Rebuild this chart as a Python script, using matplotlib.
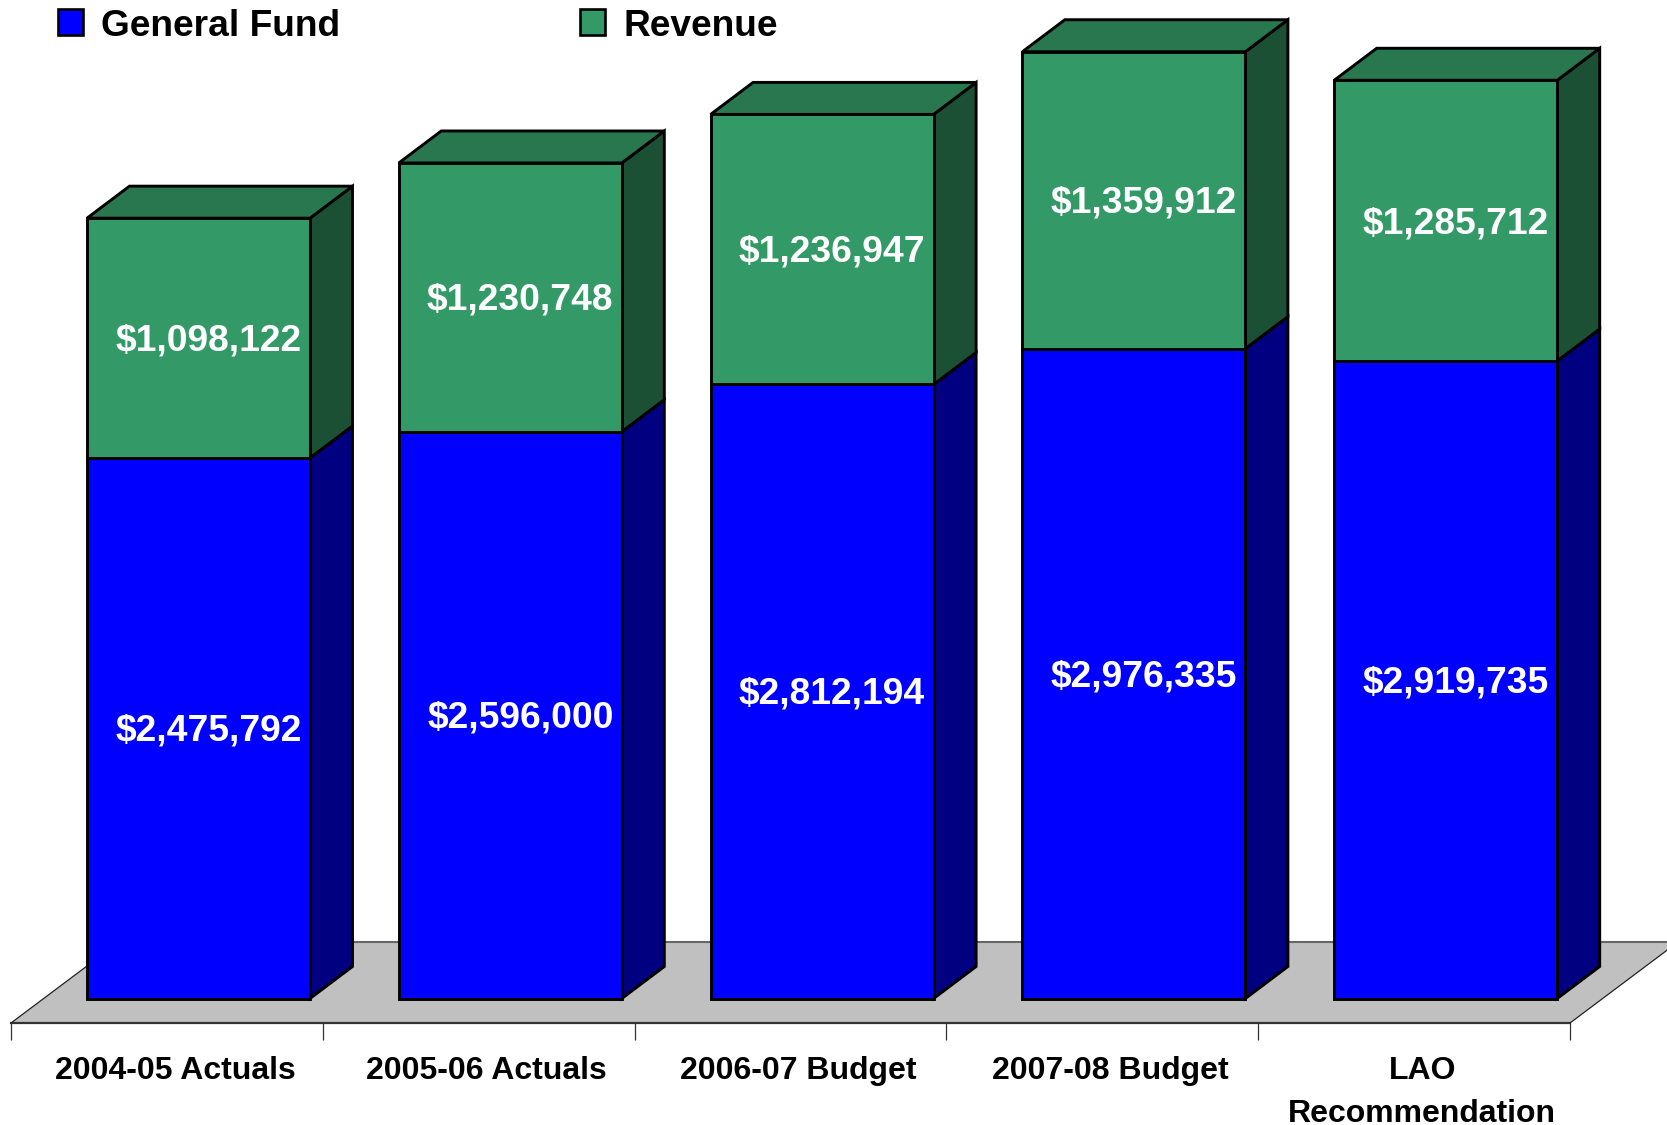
import numpy as np
import matplotlib
matplotlib.use("Agg")
import matplotlib.pyplot as plt
from matplotlib.patches import Rectangle

plt.rcParams['font.family'] = ['Liberation Sans', 'DejaVu Sans']

categories = ["2004-05 Actuals", "2005-06 Actuals", "2006-07 Budget", "2007-08 Budget", "LAO\nRecommendation"]
general_fund = [2475792, 2596000, 2812194, 2976335, 2919735]
revenue = [1098122, 1230748, 1236947, 1359912, 1285712]

BLUE, BLUE_SIDE = "#0000FF", "#000080"
GREEN, GREEN_TOP, GREEN_SIDE = "#339966", "#29774F", "#1C5035"
FLOOR = "#C0C0C0"

PX_X = 311.8            # pixels per category
PX_Y = 4580.0           # dollars per pixel
W, H = 1667, 1125
X0, Y0 = 198.5, 998.5   # pixel position of category 0 and of value 0

fig = plt.figure(figsize=(W / 100, H / 100), dpi=100, facecolor="white")
ax = fig.add_axes([0, 0, 1, 1])
ax.set_xlim(-X0 / PX_X, (W - X0) / PX_X)
ax.set_ylim(-(H - Y0) * PX_Y, Y0 * PX_Y)
ax.axis("off")

x = np.arange(len(categories), dtype=float)
gf = np.array(general_fund, float)
rev = np.array(revenue, float)
width = 223 / PX_X
dx, dy = 42.5 / PX_X, 32 * PX_Y

# floor
tick_x = np.arange(len(categories) + 1) - (X0 - 11) / PX_X
fy0, fy1 = (Y0 - 1023) * PX_Y, (Y0 - 942) * PX_Y
fdx = 108 / PX_X
ax.fill([tick_x[0], tick_x[-1], tick_x[-1] + fdx, tick_x[0] + fdx],
        [fy0, fy0, fy1, fy1], color=FLOOR, lw=0, zorder=1)
ax.plot([tick_x[0] + fdx, tick_x[-1] + fdx], [fy1, fy1], color="#666666", lw=1.5, zorder=1.1)
ax.plot([tick_x[0], tick_x[-1]], [fy0, fy0], color="#333333", lw=1.6, zorder=1.1)
ax.plot([tick_x[0], tick_x[0] + fdx], [fy0, fy1], color="#222222", lw=0.9, zorder=1.1)
ax.plot([tick_x[-1], tick_x[-1] + fdx], [fy0, fy1], color="#222222", lw=0.9, zorder=1.1)
ax.vlines(tick_x, fy0 - 17 * PX_Y, fy0, color="#333333", lw=0.9, zorder=1.1)

EDGE = dict(edgecolor="black", linewidth=2.1, joinstyle="miter")
ax.bar(x, gf, width, color=BLUE, zorder=3, **EDGE)
ax.bar(x, rev, width, bottom=gf, color=GREEN, zorder=3, **EDGE)

for xi, g, r in zip(x, gf, rev):
    xr = xi + width / 2
    xl = xi - width / 2
    t = g + r
    ax.fill([xr, xr + dx, xr + dx, xr], [0, dy, g + dy, g], facecolor=BLUE_SIDE, zorder=2, **EDGE)
    ax.fill([xr, xr + dx, xr + dx, xr], [g, g + dy, t + dy, t], facecolor=GREEN_SIDE, zorder=2, **EDGE)
    ax.fill([xl, xl + dx, xr + dx, xr], [t, t + dy, t + dy, t], facecolor=GREEN_TOP, zorder=2, **EDGE)

label_kw = dict(color="white", fontsize=26.8, fontweight="bold", ha="center", va="center", zorder=5)
off = 10 / PX_X
lift = -3 * PX_Y
for xi, g, r in zip(x, gf, rev):
    ax.text(xi + off, g / 2 + lift, f"${int(g):,}", **label_kw)
    ax.text(xi + off, g + r / 2 + lift, f"${int(r):,}", **label_kw)

# category labels: each line on its own baseline
for xi, c in zip(x, categories):
    for k, line in enumerate(c.split("\n")):
        ax.text(xi - 23.5 / PX_X, (Y0 - 1079 - k * 43.5) * PX_Y, line, fontsize=23.0, fontweight="bold",
                ha="center", va="baseline", color="black", zorder=5)

# legend
trans = ax.transAxes
for px, color, name in [(58, BLUE, "General Fund"), (580, GREEN, "Revenue")]:
    ax.add_patch(Rectangle((px / W, 1 - 34.5 / H), 25 / W, 25 / H, transform=trans, facecolor=color,
                           edgecolor="black", linewidth=1.9, zorder=5))
    ax.text((px + 43) / W, 1 - 26 / H, name, transform=trans, fontsize=26.7, fontweight="bold",
            ha="left", va="center", color="black", zorder=5)

fig.savefig("out.png", dpi=100, facecolor="white")
